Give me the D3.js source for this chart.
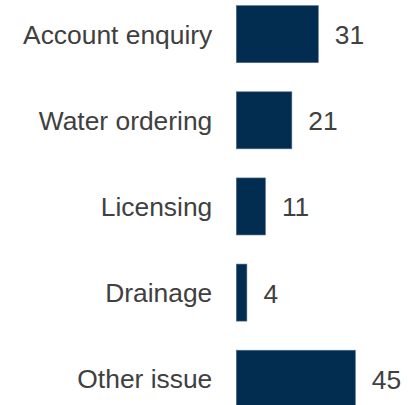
<!DOCTYPE html>
<html>
<head>
<meta charset="utf-8">
<script src="https://cdn.jsdelivr.net/npm/d3@7"></script>
<style>
  html, body { margin: 0; padding: 0; background: #fff; }
  svg { display: block; }
  text { font-family: "Liberation Sans", Arial, sans-serif; fill: #404040; }
</style>
</head>
<body>
<svg id="chart" width="408" height="405"></svg>
<script>
// Enquiry types and counts
const categories = ["Account enquiry", "Water ordering", "Licensing", "Drainage", "Other issue"];
const values = [31, 21, 11, 4, 45];

const svg = d3.select("#chart");
const fontSize = 26.4;

// Horizontal scale: bars start just right of the category labels
const x = d3.scaleLinear().domain([0, 45]).range([236.3, 355.3]);

// Vertical bands (the last band runs slightly past the bottom edge)
const y = d3.scaleBand()
  .domain(categories)
  .range([-8.9, 421.8])
  .paddingInner(0.338)
  .paddingOuter(0.169);

const rows = categories.map((c, i) => ({ category: c, value: values[i] }));

// Bars
svg.append("g")
  .selectAll("rect")
  .data(rows)
  .join("rect")
  .attr("x", x(0))
  .attr("y", d => y(d.category))
  .attr("width", d => x(d.value) - x(0))
  .attr("height", y.bandwidth())
  .attr("fill", "#022d50")
  .attr("stroke", "#4f6d8a")
  .attr("stroke-width", 0.6);

// Category labels, right-aligned against the bars
const yAxis = d3.axisLeft(y).tickSize(0).tickPadding(24);
const ag = svg.append("g")
  .attr("transform", `translate(${x(0)},0)`)
  .call(yAxis);
ag.select(".domain").remove();
ag.selectAll("text")
  .attr("font-size", fontSize)
  .attr("fill", "#404040")
  .attr("dy", "0.36em");

// Value labels at the end of each bar
svg.append("g")
  .selectAll("text")
  .data(rows)
  .join("text")
  .attr("x", d => x(d.value) + 16.5)
  .attr("y", d => y(d.category) + y.bandwidth() / 2)
  .attr("dy", "0.38em")
  .attr("font-size", fontSize)
  .text(d => d.value);
</script>
</body>
</html>
